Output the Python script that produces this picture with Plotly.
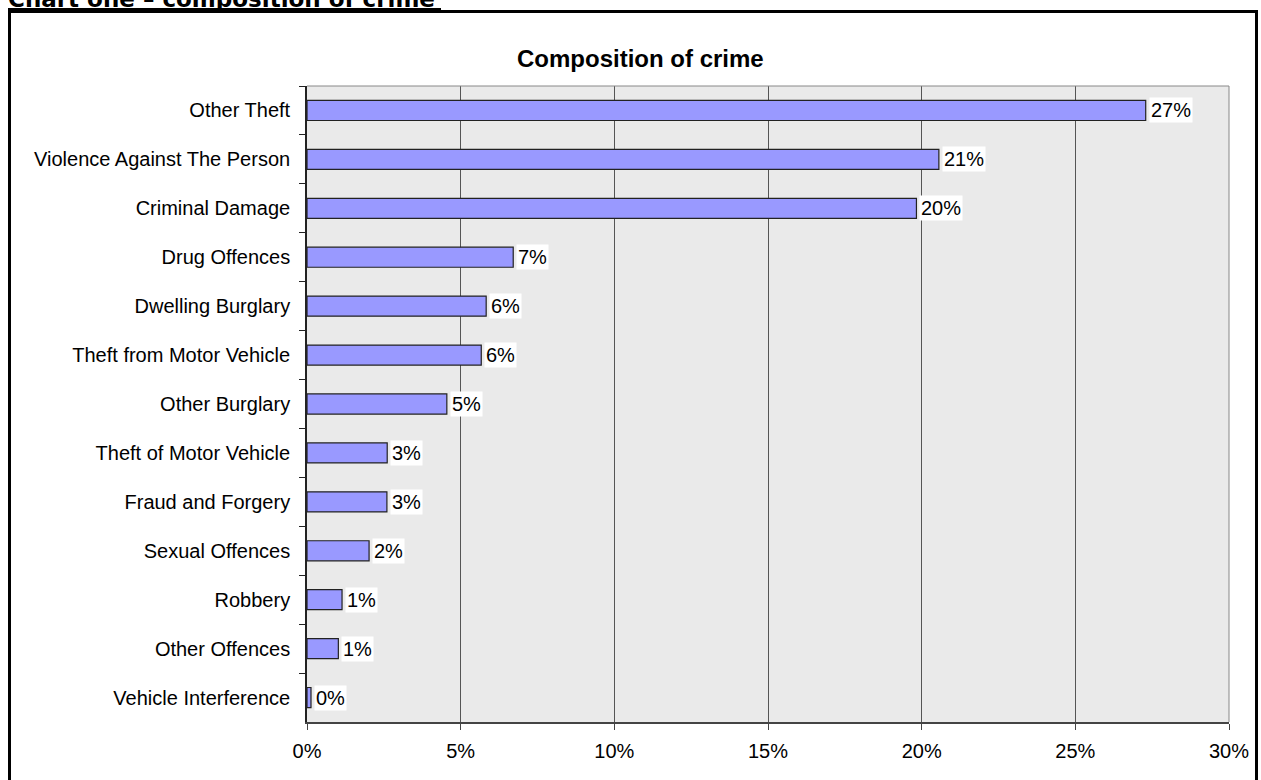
import plotly.graph_objects as go

categories = [
    "Other Theft", "Violence Against The Person", "Criminal Damage", "Drug Offences",
    "Dwelling Burglary", "Theft from Motor Vehicle", "Other Burglary",
    "Theft of Motor Vehicle", "Fraud and Forgery", "Sexual Offences", "Robbery",
    "Other Offences", "Vehicle Interference",
]
shares = [27.29, 20.56, 19.83, 6.71, 5.83, 5.67, 4.55, 2.61, 2.60, 2.02, 1.14, 1.02, 0.13]
x_ticks = [0, 5, 10, 15, 20, 25, 30]
x_tick_labels = ["0%", "5%", "10%", "15%", "20%", "25%", "30%"]

W, H = 1261, 780
ML, MR, MT, MB = 307, 32, 86, 58
PW, PH = W - ML - MR, H - MT - MB

def px(x):
    return (x - ML) / PW

def py(y):
    return (H - MB - y) / PH

FONT = "Liberation Sans, Arial, sans-serif"
FS = 20

fig = go.Figure(go.Bar(
    x=shares, y=categories, orientation="h",
    marker=dict(color="#9999FF", line=dict(color="#222222", width=1.2)),
    hoverinfo="x+y",
))

annotations = []
for c, v in zip(categories, shares):
    annotations.append(dict(
        x=v, y=c, xref="x", yref="y", text=f"{round(v)}%", showarrow=False,
        xanchor="left", yanchor="middle", xshift=3, bgcolor="white", borderpad=1,
        font=dict(family=FONT, size=FS, color="black"),
    ))

annotations.append(dict(
    x=px(640), y=py(59), xref="paper", yref="paper", text="<b>Composition of crime</b>",
    showarrow=False, xanchor="center", yanchor="middle",
    font=dict(family=FONT, size=24, color="black"),
))
annotations.append(dict(
    x=px(7), y=py(13), xref="paper", yref="paper",
    text="<b>Chart one \u2013 composition of crime</b>",
    showarrow=False, xanchor="left", yanchor="bottom", borderpad=0,
    font=dict(family="DejaVu Sans, Verdana, sans-serif", size=23, color="black"),
))

shapes = [
    dict(type="rect", xref="paper", yref="paper", x0=px(9.5), x1=px(1256.5),
         y0=py(800), y1=py(11.5), line=dict(color="black", width=3), layer="above"),
    dict(type="line", xref="paper", yref="paper", x0=px(8), x1=px(441),
         y0=py(9), y1=py(9), line=dict(color="black", width=2), layer="above"),
    dict(type="line", xref="paper", yref="paper", x0=0, x1=1, y0=1, y1=1,
         line=dict(color="#888888", width=1)),
    dict(type="line", xref="paper", yref="paper", x0=1, x1=1, y0=0, y1=1,
         line=dict(color="#888888", width=1)),
]

fig.update_layout(
    width=W, height=H, autosize=False,
    margin=dict(l=ML, r=MR, t=MT, b=MB, pad=0),
    paper_bgcolor="white", plot_bgcolor="#EAEAEA",
    bargap=0.59, showlegend=False,
    annotations=annotations, shapes=shapes,
    font=dict(family=FONT, size=FS, color="black"),
)
fig.update_xaxes(
    range=[0, 30], tickvals=x_ticks, ticktext=x_tick_labels,
    showgrid=True, gridcolor="#555555", gridwidth=1, zeroline=False,
    showline=True, linecolor="#444444", linewidth=2,
    ticks="outside", ticklen=6, tickcolor="#444444", ticklabelstandoff=4,
    tickfont=dict(family=FONT, size=FS, color="black"),
)
fig.update_yaxes(
    autorange="reversed", categoryorder="array", categoryarray=categories,
    showline=True, linecolor="#222222", linewidth=1.5,
    ticks="outside", tickson="boundaries", ticklen=6, tickcolor="#222222",
    showgrid=False, ticksuffix="  ",
    tickfont=dict(family=FONT, size=FS, color="black"),
)

fig.write_html("out.html")
